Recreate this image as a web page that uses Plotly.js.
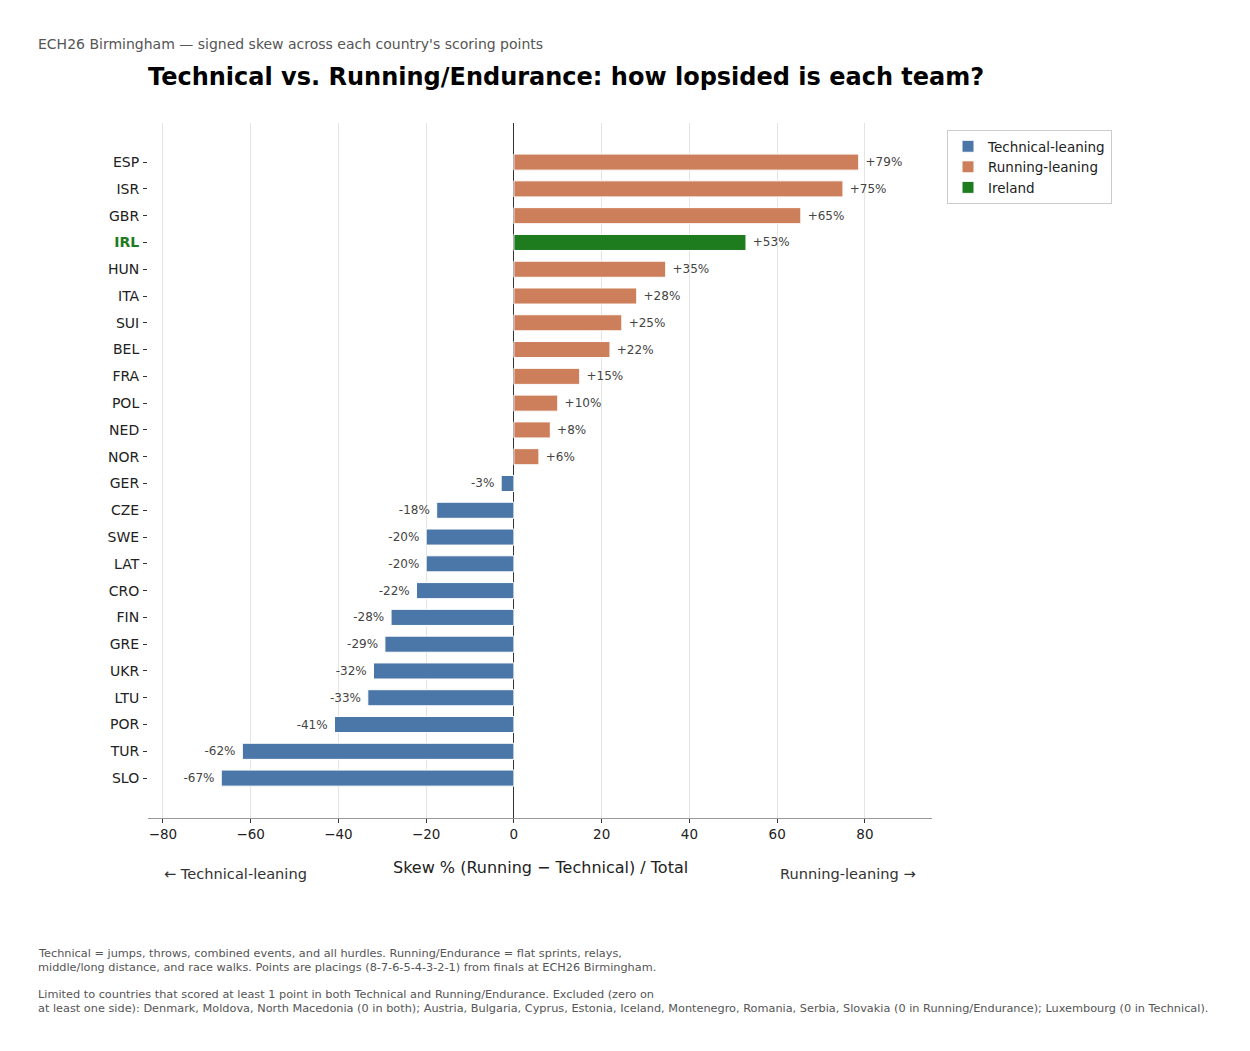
<!DOCTYPE html>
<html>
<head>
<meta charset="utf-8">
<script src="https://cdn.plot.ly/plotly-3.0.1.min.js"></script>
<style>
  body { margin: 0; background: #fff; }
  #plot { width: 1250px; height: 1051px; }
</style>
</head>
<body>
<div id="plot"></div>
<script>
// Country codes, top to bottom
var countries = ['ESP', 'ISR', 'GBR', 'IRL', 'HUN', 'ITA', 'SUI', 'BEL', 'FRA', 'POL', 'NED', 'NOR',
                 'GER', 'CZE', 'SWE', 'LAT', 'CRO', 'FIN', 'GRE', 'UKR', 'LTU', 'POR', 'TUR', 'SLO'];
// Skew % (Running - Technical) / Total
var skew = [78.6, 75.0, 65.4, 52.9, 34.6, 28.0, 24.6, 21.9, 15.0, 10.0, 8.3, 5.7,
            -2.9, -17.6, -20.0, -20.0, -22.2, -28.0, -29.4, -32.0, -33.3, -40.9, -61.9, -66.7];
var highlight = 'IRL';

var BLUE = '#4a76a8', ORANGE = '#cc7f5a', GREEN = '#1e7b1e';

//Formats the value label next to each bar (space keeps it off the bar end)
function fmt(v) {
    var r = Math.round(v);
    return r > 0 ? ' +' + r + '%' : r + '% ';
}

//Splits countries into the three legend groups
function makeTrace(name, color, test) {
    var ys = [], xs = [], txt = [];
    countries.forEach(function(c, i) {
        if (test(c, skew[i])) {
            ys.push(c);
            xs.push(skew[i]);
            txt.push(fmt(skew[i]));
        }
    });
    return {
        type: 'bar', orientation: 'h', name: name,
        x: xs, y: ys, text: txt,
        textposition: 'outside', cliponaxis: false,
        textfont: {family: 'DejaVu Sans', size: 12, color: '#444'},
        marker: {color: color, line: {color: '#fff', width: 1}},
        width: 0.6, hoverinfo: 'x+y'
    };
}

var traces = [
    makeTrace('Technical-leaning', BLUE, function(c, v) { return c !== highlight && v < 0; }),
    makeTrace('Running-leaning', ORANGE, function(c, v) { return c !== highlight && v >= 0; }),
    makeTrace('Ireland', GREEN, function(c) { return c === highlight; })
];

var tickText = countries.map(function(c) {
    return c === highlight ? '<span style="color:' + GREEN + '"><b>' + c + '</b></span>' : c;
});

//Plot area in pixels, used to place the text around it
var L = 148, R = 932, T = 123, B = 818;
function px(x) { return (x - L) / (R - L); }
function py(y) { return (B - y) / (B - T); }

function note(text, x, y, size, color, anchor) {
    return {
        text: text, xref: 'paper', yref: 'paper', x: px(x), y: py(y),
        xanchor: anchor, yanchor: 'middle', showarrow: false, align: 'left',
        font: {family: 'DejaVu Sans', size: size, color: color}
    };
}

var annotations = [
    note('ECH26 Birmingham — signed skew across each country\'s scoring points', 36, 44, 14, '#555', 'left'),
    note('<b>Technical vs. Running/Endurance: how lopsided is each team?</b>', 566, 77, 24, '#000', 'center'),
    note('Skew % (Running − Technical) / Total', 540, 867, 16, '#222', 'center'),
    note('← Technical-leaning', 162, 873, 14.6, '#333', 'left'),
    note('Running-leaning →', 918, 873, 14.6, '#333', 'right'),
    note('Technical = jumps, throws, combined events, and all hurdles. Running/Endurance = flat sprints, relays,', 36, 953, 11.3, '#555', 'left'),
    note('middle/long distance, and race walks. Points are placings (8-7-6-5-4-3-2-1) from finals at ECH26 Birmingham.', 36, 967, 11.3, '#555', 'left'),
    note('Limited to countries that scored at least 1 point in both Technical and Running/Endurance. Excluded (zero on', 36, 994, 11.3, '#555', 'left'),
    note('at least one side): Denmark, Moldova, North Macedonia (0 in both); Austria, Bulgaria, Cyprus, Estonia, Iceland, Montenegro, Romania, Serbia, Slovakia (0 in Running/Endurance); Luxembourg (0 in Technical).', 36, 1008, 11.3, '#555', 'left')
];

var layout = {
    width: 1250, height: 1051,
    margin: {l: L, r: 1250 - R, t: T, b: 1051 - B},
    paper_bgcolor: '#fff', plot_bgcolor: '#fff',
    font: {family: 'DejaVu Sans', color: '#222'},
    barmode: 'overlay',
    showlegend: true,
    legend: {
        x: px(947), y: py(130), xanchor: 'left', yanchor: 'top',
        bordercolor: '#ccc', borderwidth: 1, bgcolor: '#fff',
        font: {family: 'DejaVu Sans', size: 13.5, color: '#222'},
        traceorder: 'normal', itemwidth: 30
    },
    xaxis: {
        range: [-83.4, 95.3],
        tickvals: [-80, -60, -40, -20, 0, 20, 40, 60, 80],
        ticktext: ['−80', '−60', '−40', '−20', '0', '20', '40', '60', '80'],
        ticks: 'outside', ticklen: 4, tickcolor: '#333',
        tickfont: {size: 13.5, color: '#222'},
        showgrid: true, gridcolor: '#e4e4e4', gridwidth: 1,
        zeroline: true, zerolinecolor: '#333', zerolinewidth: 1,
        showline: true, linecolor: '#999', linewidth: 1,
        fixedrange: true
    },
    yaxis: {
        type: 'category',
        categoryorder: 'array', categoryarray: countries,
        tickmode: 'array', tickvals: countries, ticktext: tickText,
        range: [24.49, -1.46],
        ticks: 'outside', ticklen: 4, tickcolor: '#333',
        ticklabelstandoff: 1,
        tickfont: {size: 14, color: '#222'},
        showgrid: false, zeroline: false, showline: false,
        fixedrange: true
    },
    annotations: annotations
};

Plotly.newPlot('plot', traces, layout, {displayModeBar: false, staticPlot: true});
</script>
</body>
</html>
